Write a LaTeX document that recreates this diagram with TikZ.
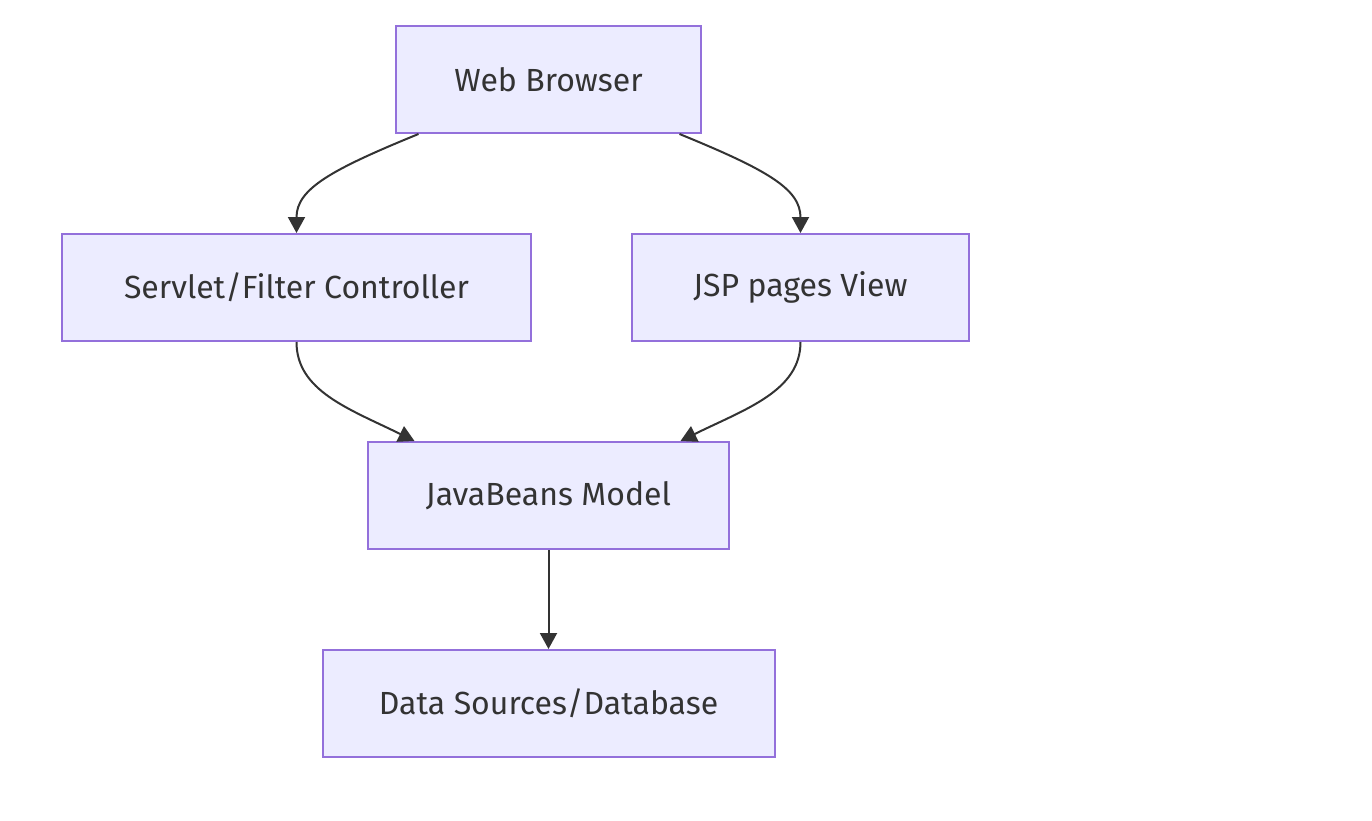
\documentclass[tikz,border=0pt]{standalone}
\usepackage{fontspec}
\setmainfont{Fira Sans}
\usetikzlibrary{arrows.meta}
\definecolor{boxfill}{HTML}{ECECFF}
\definecolor{boxline}{HTML}{9370DB}
\definecolor{ink}{HTML}{333333}

\begin{document}
\begin{tikzpicture}
      [x=.5pt,y=-.5pt
      ,box/.style={draw=boxline,fill=boxfill,line width=1pt,text=ink,font=\fontsize{16}{19}\selectfont,minimum height=53.5pt,inner sep=0pt}
      ,edge/.style={draw=ink,line width=1pt,-{Triangle[length=8pt,width=8.5pt]}}
      ]
        \useasboundingbox (0,0) rectangle (1372,820);
        \node[box,minimum width=152.5pt] (wb) at (548.5,79.5) {Web Browser};
        \node[box,minimum width=234.5pt] (ctl) at (296.5,287.5) {Servlet/Filter Controller};
        \node[box,minimum width=168.5pt] (jsp) at (800.5,287.5) {JSP pages View};
        \node[box,minimum width=180.5pt] (model) at (548.5,495.5) {JavaBeans Model};
        \node[box,minimum width=226pt] (db) at (548.5,703.5) {Data Sources/Database};
        \draw[edge] ([xshift=-65pt]wb.south) .. controls +(-88,36) and +(0,-44) .. (ctl.north);
        \draw[edge] ([xshift=65.5pt]wb.south) .. controls +(88,36) and +(0,-44) .. (jsp.north);
        \draw[edge] (ctl.south) .. controls +(0,49) and +(-65,-32) .. ([xshift=-67pt]model.north);
        \draw[edge] (jsp.south) .. controls +(0,49) and +(65,-32) .. ([xshift=66pt]model.north);
        \draw[edge] (model) -- (db);
      \end{tikzpicture}
\end{document}
